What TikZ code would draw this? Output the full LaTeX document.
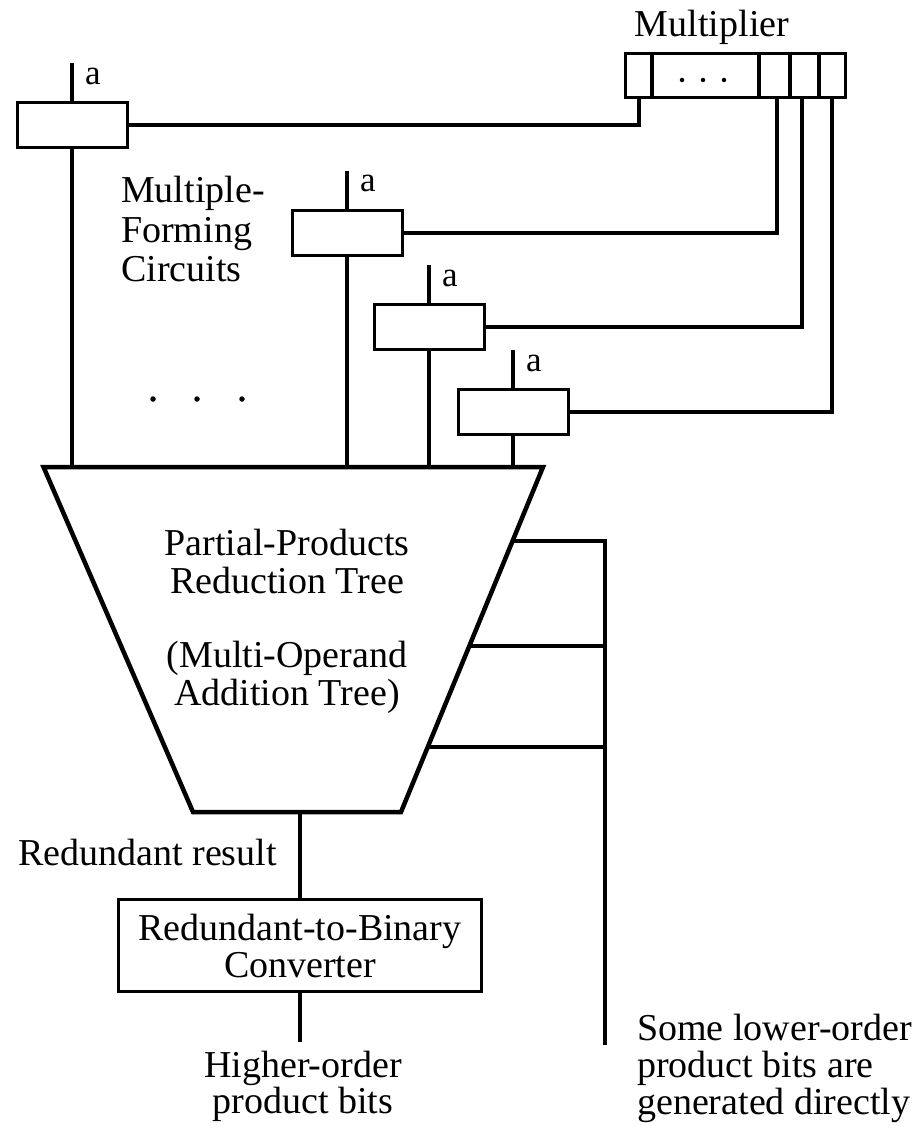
\documentclass[tikz,border=0pt]{standalone}
\usepackage{fontspec}
\setmainfont{Liberation Serif}
\usetikzlibrary{calc}
\begin{document}
\begin{tikzpicture}[x=1pt,y=-1pt,
  wire/.style={line width=4pt},
  mfbox/.style={draw, line width=3pt, minimum width=110pt, minimum height=45pt, inner sep=0pt},
  lbl/.style={font=\fontsize{38pt}{38pt}\selectfont, inner sep=0pt},
  small/.style={font=\fontsize{35pt}{36pt}\selectfont, inner sep=0pt},
  dotmark/.style={circle, fill, inner sep=0pt, minimum size=5.5pt}]
\useasboundingbox (0,0) rectangle (922,1126);

% multiplier register
\node[draw, line width=3pt, minimum width=220pt, minimum height=44pt, inner sep=0pt] (reg) at (735.5,75.5) {};
\foreach \x in {652,759,790,819} \draw[line width=4pt] (\x,53.5) -- (\x,97.5);
\node[dotmark, minimum size=4.5pt] (rd1) at (682,80) {};
\node[dotmark, minimum size=4.5pt] (rd2) at (703,80) {};
\node[dotmark, minimum size=4.5pt] (rd3) at (724,80) {};
\node[lbl, anchor=base] (multlbl) at (712,37) {Multiplier};
\coordinate (tap0) at (639,97.5);
\coordinate (tap1) at (777,97.5);
\coordinate (tap2) at (802,97.5);
\coordinate (tap3) at (832,97.5);

% multiple-forming circuits
\node[mfbox] (m1) at (72,125.5) {};
\node[mfbox] (m2) at (347,233) {};
\node[mfbox] (m3) at (429,327) {};
\node[mfbox] (m4) at (513,412) {};
\foreach \m in {m1,m2,m3,m4}{
  \draw[wire] (\m.north) -- ([yshift=38pt]\m.north);
  \node[small, anchor=base west] (a-\m) at ([xshift=13pt,yshift=17pt]\m.north) {a};
}
\draw[wire] (m1.east) -| (tap0);
\draw[wire] (m2.east) -| (tap1);
\draw[wire] (m3.east) -| (tap2);
\draw[wire] (m4.east) -| (tap3);

\node[lbl, anchor=base west] (mf1) at (121,202) {Multiple-};
\node[lbl, anchor=base west] (mf2) at (121,242) {Forming};
\node[lbl, anchor=base west] (mf3) at (121,281) {Circuits};
\node[dotmark] (d1) at (153,399) {};
\node[dotmark] (d2) at (197,399) {};
\node[dotmark] (d3) at (242,399) {};

% reduction tree
\coordinate (tl) at (43.5,467);
\coordinate (tr) at (543,467);
\coordinate (br) at (401,812);
\coordinate (bl) at (193,812);
\draw[line width=4.5pt, line join=miter] (tl) -- (tr) -- (br) -- (bl) -- cycle;
\foreach \m in {m1,m2,m3,m4} \draw[wire] (\m.south) -- (\m.south |- tl);

\node[lbl, anchor=base] (t1) at (287,555) {Partial-Products};
\node[lbl, anchor=base] (t2) at (287,593) {Reduction Tree};
\node[lbl, anchor=base] (t3) at (287,667) {(Multi-Operand};
\node[lbl, anchor=base] (t4) at (287,705) {Addition Tree)};

% lower-order bits taken directly from the tree
\coordinate (s1) at ($(tr)!0.2145!(br)$);
\coordinate (s2) at ($(tr)!0.5188!(br)$);
\coordinate (s3) at ($(tr)!0.8116!(br)$);
\coordinate (busend) at (605,1045);
\draw[wire, line join=miter] (s1) -| (busend);
\draw[wire] (s2) -- (s2 -| busend);
\draw[wire] (s3) -- (s3 -| busend);

% converter
\node[draw, line width=3pt, minimum width=363pt, minimum height=92pt, inner sep=0pt,
      font=\fontsize{38pt}{37pt}\selectfont, align=center] (conv) at (300,945.5)
      {Redundant-to-Binary\\Converter};
\draw[wire] (conv.north |- bl) -- (conv.north);
\coordinate (hi) at (300,1042);
\draw[wire] (conv.south) -- (hi);
\node[lbl, anchor=base west] (rr) at (18,865) {Redundant result};

\node[lbl, anchor=base] (h1) at (303,1077) {Higher-order};
\node[lbl, anchor=base] (h2) at (303,1113) {product bits};
\node[lbl, anchor=base west] (l1) at (637,1040) {Some lower-order};
\node[lbl, anchor=base west] (l2) at (637,1077) {product bits are};
\node[lbl, anchor=base west] (l3) at (637,1114) {generated directly};
\end{tikzpicture}
\end{document}
